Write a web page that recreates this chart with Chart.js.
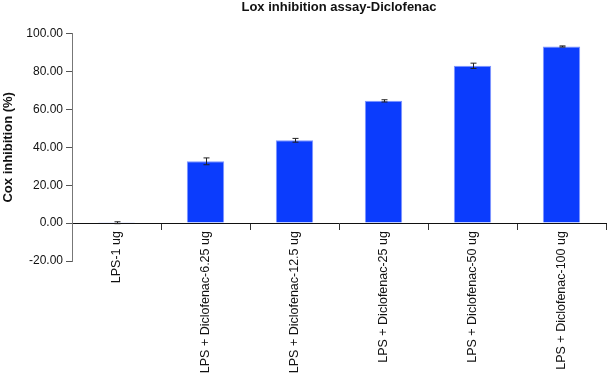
<!DOCTYPE html>
<html>
<head>
<meta charset="utf-8">
<script src="https://cdn.jsdelivr.net/npm/chart.js@4.4.0/dist/chart.umd.min.js"></script>
<style>
  html, body { margin: 0; padding: 0; background: #fff; }
</style>
</head>
<body>
<canvas id="lox_chart" width="607" height="380"></canvas>
<script>
const categories = ['LPS-1 ug', 'LPS + Diclofenac-6.25 ug', 'LPS + Diclofenac-12.5 ug',
  'LPS + Diclofenac-25 ug', 'LPS + Diclofenac-50 ug', 'LPS + Diclofenac-100 ug'];
const inhibition = [0.2, 32.6, 43.7, 64.5, 83.0, 93.2];
const errors = [0.5, 1.8, 1.0, 0.6, 1.4, 0.3];
const yTicks = [-20, 0, 20, 40, 60, 80, 100];

Chart.defaults.font.family = '"Liberation Sans", Arial, Helvetica, sans-serif';
Chart.defaults.color = '#111';

// draws the error bars through the y scale
const errorBars = {
  id: 'errorBars',
  afterDatasetsDraw(chart) {
    const ctx = chart.ctx;
    const y = chart.scales.y;
    const meta = chart.getDatasetMeta(0);
    ctx.save();
    ctx.strokeStyle = '#222';
    ctx.lineWidth = 1;
    meta.data.forEach((bar, i) => {
      const x = Math.round(bar.x) + 0.5;
      const top = y.getPixelForValue(inhibition[i] + errors[i]);
      const bot = y.getPixelForValue(inhibition[i] - errors[i]);
      ctx.beginPath();
      ctx.moveTo(x, top); ctx.lineTo(x, bot);
      ctx.moveTo(x - 3, top); ctx.lineTo(x + 3, top);
      ctx.moveTo(x - 3, bot); ctx.lineTo(x + 3, bot);
      ctx.stroke();
    });
    ctx.restore();
  }
};

new Chart(document.getElementById('lox_chart'), {
  type: 'bar',
  data: {
    labels: categories,
    datasets: [{
      data: inhibition,
      backgroundColor: '#0b3cfd',
      borderColor: '#7f95ff',
      borderWidth: 1,
      categoryPercentage: 1.0,
      barPercentage: 0.42
    }]
  },
  options: {
    responsive: false,
    animation: false,
    layout: { padding: { left: 0, right: 1, top: 0, bottom: 119 } },
    plugins: {
      legend: { display: false },
      tooltip: { enabled: false },
      title: {
        display: true,
        text: 'Lox inhibition assay-Diclofenac',
        fullSize: false,
        color: '#111',
        font: { size: 13, weight: 'bold' },
        padding: { top: 0, bottom: 18 }
      }
    },
    scales: {
      x: {
        position: { y: 0 },
        grid: { display: true, drawOnChartArea: false, offset: true, tickLength: 6, color: '#333' },
        border: { display: true, color: '#111' },
        ticks: { minRotation: 90, maxRotation: 90, autoSkip: false, padding: 2, font: { size: 12.5 }, color: '#111' }
      },
      y: {
        min: -20,
        max: 100,
        afterBuildTicks: (s) => { s.ticks = yTicks.map(v => ({ value: v })); },
        afterFit: (s) => { s.width = 72; },
        grid: { display: true, drawOnChartArea: false, tickLength: 6, color: '#555' },
        border: { display: true, color: '#777' },
        ticks: { padding: 3, font: { size: 12 }, color: '#111', callback: (v) => Number(v).toFixed(2) },
        title: {
          display: true,
          text: 'Cox inhibition (%)',
          color: '#111',
          font: { size: 13, weight: 'bold' },
          padding: { top: 1, bottom: 0 }
        }
      }
    }
  },
  plugins: [errorBars]
});
</script>
</body>
</html>
